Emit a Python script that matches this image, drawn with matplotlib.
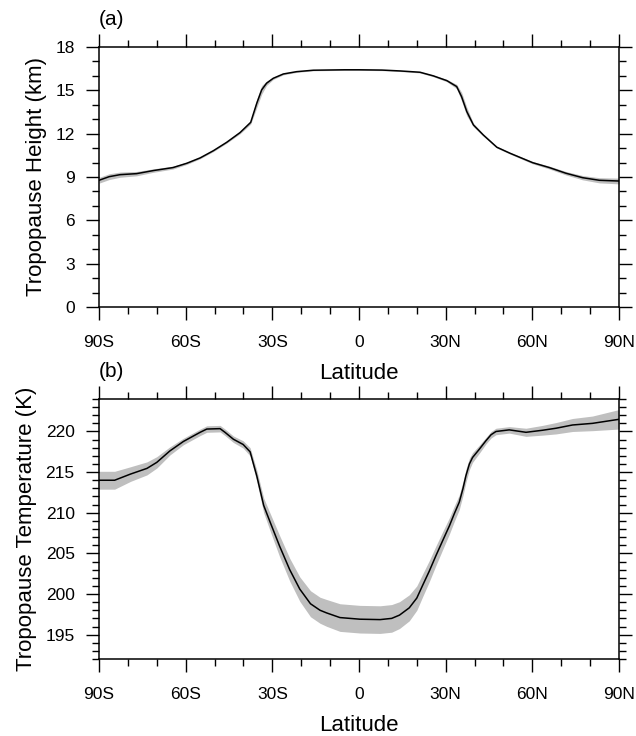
import numpy as np
import matplotlib
matplotlib.use('Agg')
import matplotlib.pyplot as plt
from matplotlib.ticker import MultipleLocator

# ---------- data ----------
lat_a = [-90, -86.5, -82.7, -77, -71.3, -64.4, -59.6, -55, -50.4, -45.8, -41.2,
         -37.5, -35.4, -33.7, -32.0, -29.7, -26.2, -21.6, -15.8, -5, 0, 8, 14.2,
         21.1, 25.7, 30.4, 33.8, 35.5, 37.3, 39.6, 43.0, 47.7, 52.3, 60.1, 65.9,
         71.6, 77.4, 83.2, 90]
height = [8.77, 9.02, 9.16, 9.23, 9.44, 9.65, 9.95, 10.32, 10.82, 11.4, 12.07,
          12.78, 14.1, 15.03, 15.49, 15.83, 16.13, 16.29, 16.39, 16.42, 16.42, 16.40, 16.34,
          16.25, 16.0, 15.67, 15.26, 14.56, 13.53, 12.6, 11.91, 11.06, 10.64, 9.99, 9.65,
          9.26, 8.95, 8.77, 8.72]
height_spread = [0.2, 0.2, 0.18, 0.15, 0.12, 0.1, 0.08, 0.06, 0.06, 0.06, 0.08,
                 0.12, 0.3, 0.3, 0.15, 0.08, 0.06, 0.05, 0.04, 0.04, 0.04, 0.04, 0.04,
                 0.05, 0.06, 0.08, 0.15, 0.3, 0.3, 0.12, 0.08, 0.06, 0.06, 0.08, 0.1,
                 0.12, 0.15, 0.18, 0.2]

lat_b = [-90, -84.6, -79.1, -73.4, -70, -65.5, -60.8, -55.0, -52.7, -48.1, -46.4,
         -43.5, -40.1, -37.7, -35.4, -33.0, -30.5, -27.5, -24.0, -20.5, -16.8, -13.5,
         -11.2, -6.6, 0.3, 7.3, 11.3, 14.0, 17.4, 20.0, 22.0, 24.3, 26.6, 29.0, 31.3,
         33.0, 34.7, 36.0, 37.0, 38.2, 39.3, 41.6, 43.9, 45.7, 47.4, 52.0, 57.8,
         63.5, 68.2, 73.9, 80.8, 90]
temp = [214.0, 214.0, 214.76, 215.46, 216.2, 217.6, 218.77, 219.9, 220.3, 220.35, 219.9,
        219.05, 218.4, 217.5, 214.55, 210.9, 208.6, 205.9, 203.0, 200.6, 198.8, 198.0,
        197.67, 197.1, 196.9, 196.85, 197.0, 197.4, 198.3, 199.5, 201.05, 202.8, 204.7, 206.6, 208.4,
        209.9, 211.3, 213.0, 214.55, 216.0, 216.8, 217.8, 218.85, 219.6, 220.0, 220.2, 219.9,
        220.15, 220.4, 220.8, 221.0, 221.5]
temp_spread = [1.1, 1.1, 0.9, 0.8, 0.7, 0.5, 0.4, 0.4, 0.4, 0.4, 0.4,
               0.4, 0.45, 0.5, 0.7, 0.9, 1.1, 1.3, 1.4, 1.5, 1.6, 1.6,
               1.65, 1.7, 1.7, 1.7, 1.7, 1.65, 1.6, 1.5, 1.4, 1.3, 1.2, 1.1, 1.0,
               0.95, 0.9, 0.85, 0.8, 0.7, 0.6, 0.5, 0.4, 0.4, 0.4, 0.4, 0.5,
               0.6, 0.7, 0.8, 0.9, 1.2]

lat_ticks = [-90, -60, -30, 0, 30, 60, 90]
lat_labels = ['90S', '60S', '30S', '0', '30N', '60N', '90N']

# ---------- style ----------
plt.rcParams.update({
    'font.family': ['Liberation Sans', 'DejaVu Sans'],
    'font.size': 12.5,
    'axes.linewidth': 1.1,
})

SHADE = '#bfbfbf'


def style_axis(ax, ymin, ymax, ymajor, yminor):
    ax.set_xlim(-90, 90)
    ax.set_ylim(ymin, ymax)
    ax.set_xticks(lat_ticks)
    ax.set_xticklabels(lat_labels)
    ax.xaxis.set_minor_locator(MultipleLocator(10))
    ax.yaxis.set_major_locator(MultipleLocator(ymajor))
    ax.yaxis.set_minor_locator(MultipleLocator(yminor))
    ax.tick_params(which='both', direction='out', top=True, right=True,
                   labelsize=12.5, width=1.0)
    ax.tick_params(which='major', length=9.5)
    ax.tick_params(which='minor', length=5)
    ax.tick_params(axis='x', which='major', pad=11)
    ax.tick_params(axis='y', which='major', pad=8)
    ax.set_xlabel('Latitude', fontsize=16, labelpad=9)


fig = plt.figure(figsize=(6.36, 7.36), dpi=100)
ax1 = fig.add_axes([0.1557, 0.5829, 0.8176, 0.3533])
ax2 = fig.add_axes([0.1557, 0.1046, 0.8176, 0.3533])

# (a) tropopause height
h = np.array(height); hs = np.array(height_spread)
ax1.fill_between(lat_a, h - hs, h + hs, color=SHADE, lw=0)
ax1.plot(lat_a, h, color='black', lw=1.1)
style_axis(ax1, 0, 18, 3, 1)
ax1.set_ylabel('Tropopause Height (km)', fontsize=16, labelpad=6)
ax1.text(0.0, 1.07, '(a)', transform=ax1.transAxes, fontsize=15, ha='left', va='bottom')

# (b) tropopause temperature
t = np.array(temp); ts = np.array(temp_spread)
ax2.fill_between(lat_b, t - ts, t + ts, color=SHADE, lw=0)
ax2.plot(lat_b, t, color='black', lw=1.1)
style_axis(ax2, 192, 224, 5, 1)
ax2.set_ylabel('Tropopause Temperature (K)', fontsize=16, labelpad=6)
ax2.text(0.0, 1.07, '(b)', transform=ax2.transAxes, fontsize=15, ha='left', va='bottom')

fig.savefig('out.png', dpi=100, facecolor='white')
